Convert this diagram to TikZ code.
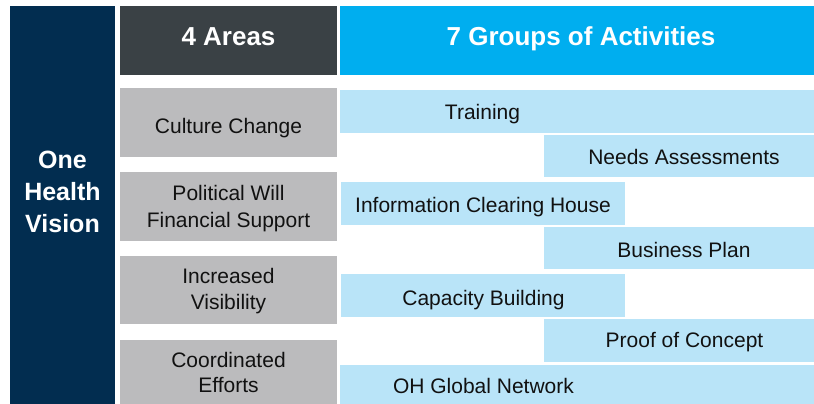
\documentclass[tikz,border=0pt]{standalone}
\usepackage{fontspec}
\setmainfont{Liberation Sans}
\definecolor{navy}{HTML}{022D50}
\definecolor{darkhdr}{HTML}{3A4145}
\definecolor{bluehdr}{HTML}{00AEEF}
\definecolor{lightblue}{HTML}{B9E4F8}
\definecolor{graybox}{HTML}{BBBBBD}
\definecolor{txt}{HTML}{111111}
\begin{document}
\begin{tikzpicture}[x=1pt,y=-1pt,
  box/.style={draw=none,inner sep=0pt,outer sep=0pt,anchor=center},
  navybox/.style={box,fill=navy},
  hdrbox/.style={box,fill=darkhdr},
  bluebox/.style={box,fill=bluehdr},
  areabox/.style={box,fill=graybox},
  actbox/.style={box,fill=lightblue},
  hdrtext/.style={anchor=base,inner sep=0pt,text=white,font=\fontsize{26}{30}\selectfont\bfseries},
  visiontext/.style={anchor=base,inner sep=0pt,text=white,font=\fontsize{25}{32}\selectfont\bfseries},
  areatext/.style={anchor=base,inner sep=0pt,text=txt,font=\fontsize{21}{26}\selectfont},
  acttext/.style={anchor=base,inner sep=0pt,text=txt,font=\fontsize{21}{26}\selectfont}]
\useasboundingbox[fill=white] (0,0) rectangle (814,404);
% columns
\node[navybox,minimum width=105pt,minimum height=398pt] (vision) at (62.5,205) {};
\node[hdrbox,minimum width=217pt,minimum height=69pt] (areas) at (228.5,40.5) {};
\node[bluebox,minimum width=474pt,minimum height=69pt] (groups) at (577,40.5) {};
% areas
\node[areabox,minimum width=217pt,minimum height=69pt] (culture) at (228.5,122.5) {};
\node[areabox,minimum width=217pt,minimum height=69pt] (political) at (228.5,206.5) {};
\node[areabox,minimum width=217pt,minimum height=68pt] (visibility) at (228.5,290) {};
\node[areabox,minimum width=217pt,minimum height=64pt] (coordinated) at (228.5,372) {};
% activities
\node[actbox,minimum width=474pt,minimum height=43pt] (training) at (577,111.5) {};
\node[actbox,minimum width=270pt,minimum height=42pt] (needs) at (679,156) {};
\node[actbox,minimum width=284pt,minimum height=43pt] (info) at (483,203.5) {};
\node[actbox,minimum width=270pt,minimum height=42pt] (business) at (679,248) {};
\node[actbox,minimum width=284pt,minimum height=43pt] (capacity) at (483,295.5) {};
\node[actbox,minimum width=270pt,minimum height=43pt] (proof) at (679,340.5) {};
\node[actbox,minimum width=474pt,minimum height=39pt] (network) at (577,384.5) {};
% texts
\node[hdrtext] (areasT) at (228.5,46) {4 Areas};
\node[hdrtext] (groupsT) at (581,46) {7 Groups of Activities};
\node[visiontext] (oneT) at (62.5,168) {One};
\node[visiontext] (healthT) at (62.5,200) {Health};
\node[visiontext] (visionT) at (62.5,232) {Vision};
\node[areatext] (cultureT) at (228.5,133) {Culture Change};
\node[areatext] (politicalT1) at (228.5,200) {Political Will};
\node[areatext] (politicalT2) at (228.5,227) {Financial Support};
\node[areatext] (visibilityT1) at (228.5,283) {Increased};
\node[areatext] (visibilityT2) at (228.5,309) {Visibility};
\node[areatext] (coordinatedT1) at (228.5,367) {Coordinated};
\node[areatext] (coordinatedT2) at (228.5,392) {Efforts};
\node[acttext] (trainingT) at (482.5,119) {Training};
\node[acttext] (needsT) at (684,164) {Needs Assessments};
\node[acttext] (infoT) at (483,212) {Information Clearing House};
\node[acttext] (businessT) at (684,257) {Business Plan};
\node[acttext] (capacityT) at (483.5,305) {Capacity Building};
\node[acttext] (proofT) at (684.5,347) {Proof of Concept};
\node[acttext] (networkT) at (483.5,393) {OH Global Network};
\end{tikzpicture}
\end{document}
